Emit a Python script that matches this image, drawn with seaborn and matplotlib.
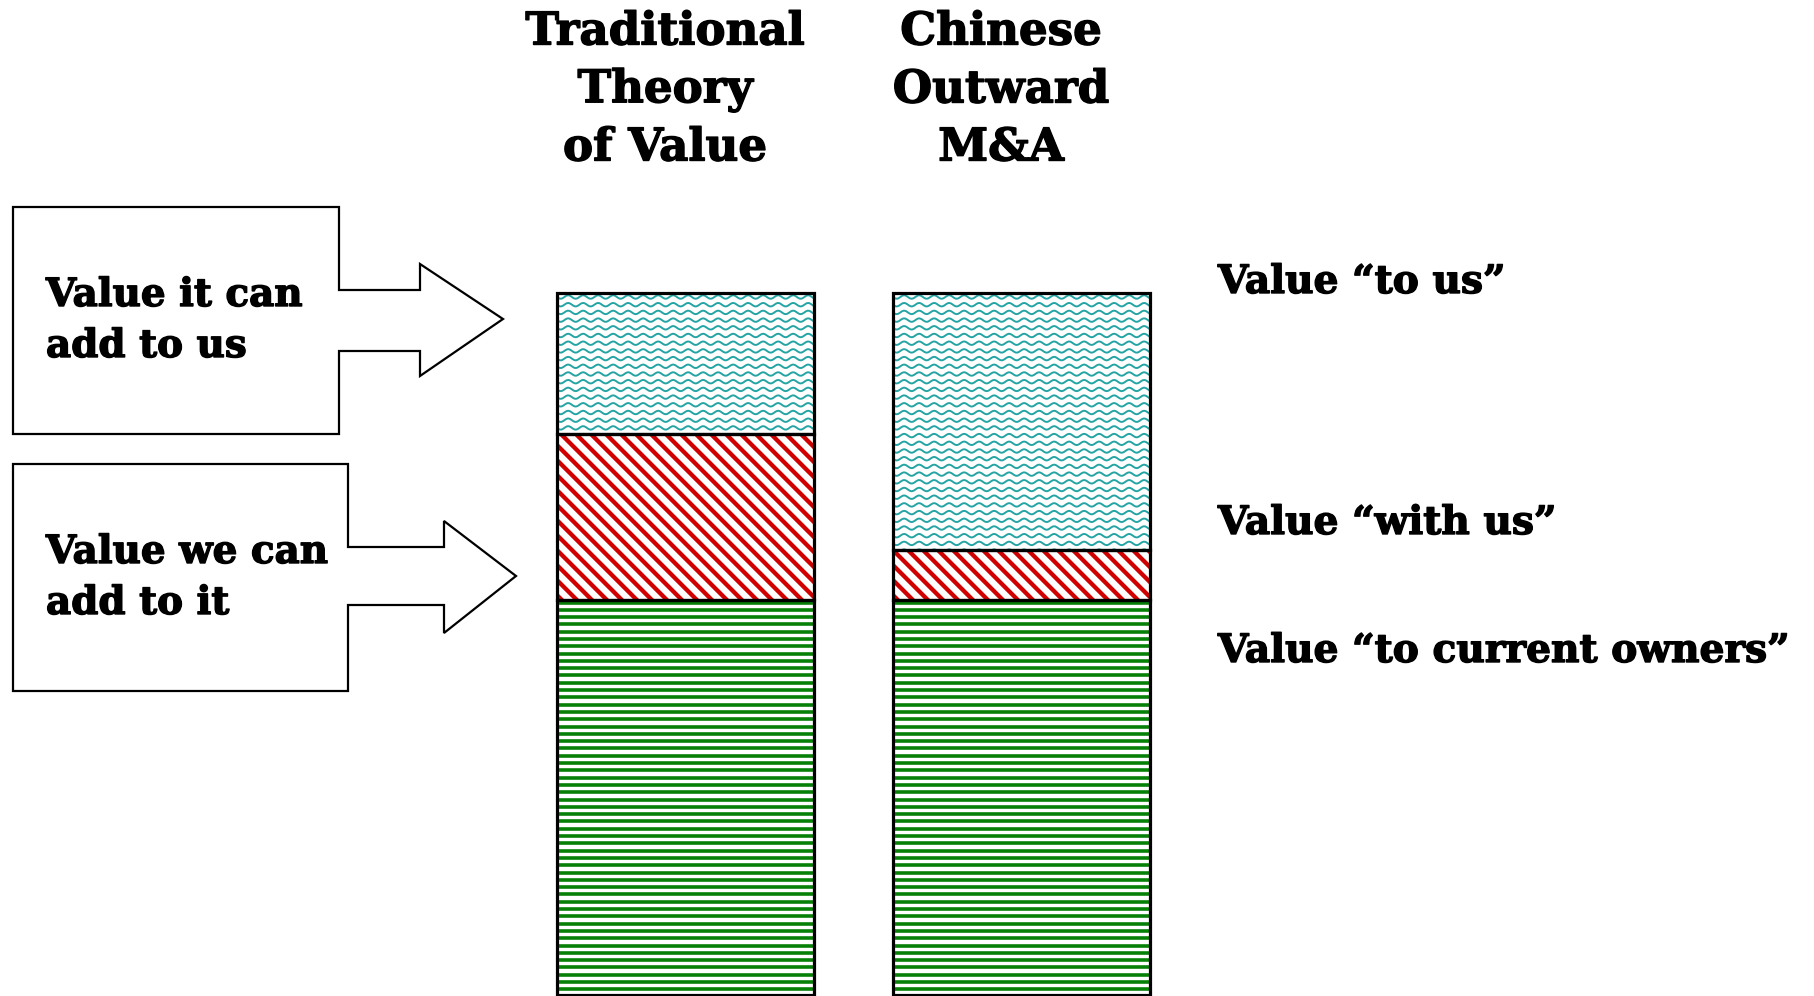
import numpy as np
import pandas as pd
import matplotlib
matplotlib.use("Agg")
import matplotlib.pyplot as plt
import matplotlib.patheffects as pe
import seaborn as sns
from matplotlib.collections import LineCollection
from matplotlib.patches import Polygon

# ---------------- data ----------------
scenarios = ["Traditional Theory of Value", "Chinese Outward M&A"]
value_to_current_owners = [39.5, 39.5]
value_with_us = [16.6, 5.0]
value_to_us = [14.1, 25.7]

title_lines = [["Traditional", "Theory", "of Value"], ["Chinese", "Outward", "M&A"]]
right_labels = ["Value \u201cto us\u201d", "Value \u201cwith us\u201d", "Value \u201cto current owners\u201d"]
box_labels = [["Value it can", "add to us"], ["Value we can", "add to it"]]

sns.set_theme(style="white")
plt.rcParams["font.family"] = ["DejaVu Serif"]
plt.rcParams["text.color"] = "black"

W, H = 1814, 996
fig = plt.figure(figsize=(W / 100, H / 100), dpi=100)
fig.patch.set_facecolor("white")

# overlay axes in pixel coordinates (drawn underneath the bars)
ov = fig.add_axes([0, 0, 1, 1], zorder=0)
ov.set_xlim(0, W)
ov.set_ylim(H, 0)
ov.axis("off")

ax = fig.add_axes([0, 0, 1, 1], zorder=1)
ax.patch.set_visible(False)

df = pd.DataFrame({
    "scenario": scenarios,
    "owners": value_to_current_owners,
    "with_us": value_with_us,
    "to_us": value_to_us,
})
b1 = np.zeros(len(scenarios))
b2 = b1 + np.array(value_to_current_owners)
b3 = b2 + np.array(value_with_us)

common = dict(x="scenario", ax=ax, fill=False, color="black", linewidth=2.3,
              width=0.765, errorbar=None)
sns.barplot(data=df, y="owners", bottom=b1, **common)
n1 = len(ax.patches)
sns.barplot(data=df, y="with_us", bottom=b2, **common)
n2 = len(ax.patches)
sns.barplot(data=df, y="to_us", bottom=b3, **common)
patches = list(ax.patches)

ax.set_xlim(-2.040, 3.359)
ax.set_ylim(-0.1, 99.5)
ax.axis("off")
for p in patches:
    p.set_zorder(3)

fig.canvas.draw()
inv = ov.transData.inverted()


def pix_extent(p):
    bb = p.get_window_extent()
    (x0, y0), (x1, y1) = inv.transform([[bb.x0, bb.y0], [bb.x1, bb.y1]])
    return min(x0, x1), max(x0, x1), min(y0, y1), max(y0, y1)


def add_lines(segs, p, color, lw):
    lc = LineCollection(segs, colors=color, linewidths=lw, zorder=2)
    ov.add_collection(lc)
    lc.set_clip_path(p)


green_p = patches[:n1]
red_p = patches[n1:n2]
cyan_p = patches[n2:]

for p in green_p:
    x0, x1, y0, y1 = pix_extent(p)
    ys = np.arange(602.5, y1 + 8, 7.3)
    segs = [[(x0 - 5, y), (x1 + 5, y)] for y in ys]
    add_lines(segs, p, "#078007", 2.6)

for p in red_p:
    x0, x1, y0, y1 = pix_extent(p)
    hgt = y1 - y0
    starts = np.arange(x0 - hgt - 30, x1 + 30, 15.0)
    segs = [[(s, y0 - 5), (s + hgt + 10, y1 + 5)] for s in starts]
    add_lines(segs, p, "#d00000", 3.1)

for p in cyan_p:
    x0, x1, y0, y1 = pix_extent(p)
    xs = np.linspace(x0 - 5, x1 + 5, 600)
    ys = np.arange(y0 + 4, y1 + 8, 7.7)
    segs = [np.column_stack([xs, yc + 1.7 * np.sin(2 * np.pi * (xs - x0) / 15.0)]) for yc in ys]
    add_lines(segs, p, "#26a4a4", 1.4)

heavy = [pe.withStroke(linewidth=1.0, foreground="black")]

# titles
title_x = [665, 1001]
title_y = [32, 90, 148]
for tx, lines in zip(title_x, title_lines):
    for ty, t in zip(title_y, lines):
        ov.text(tx, ty, t, ha="center", va="center", fontsize=32.5,
                fontweight="bold", color="black", path_effects=heavy)

# right labels
for ty, t in zip([282, 523, 651], right_labels):
    ov.text(1218, ty, t, ha="left", va="center", fontsize=28.2,
            fontweight="bold", color="black", path_effects=heavy)

# callout boxes with arrows
shapes = [
    [(13, 207), (339, 207), (339, 290), (420, 290), (420, 264), (503, 319),
     (420, 376), (420, 351), (339, 351), (339, 434), (13, 434)],
    [(13, 464), (348, 464), (348, 547), (444, 547), (444, 521), (516, 576),
     (444, 633), (444, 605), (348, 605), (348, 691), (13, 691)],
]
for pts in shapes:
    ov.add_patch(Polygon(pts, closed=True, facecolor="white", edgecolor="black",
                         linewidth=1.6, joinstyle="miter", zorder=2))

for (l1, l2), yc in zip(box_labels, [295, 552]):
    ov.text(46, yc, l1, ha="left", va="center", fontsize=28, fontweight="bold",
            color="black", zorder=4, path_effects=heavy)
    ov.text(46, yc + 51, l2, ha="left", va="center", fontsize=28, fontweight="bold",
            color="black", zorder=4, path_effects=heavy)

fig.savefig("out.png", dpi=100, facecolor="white")
